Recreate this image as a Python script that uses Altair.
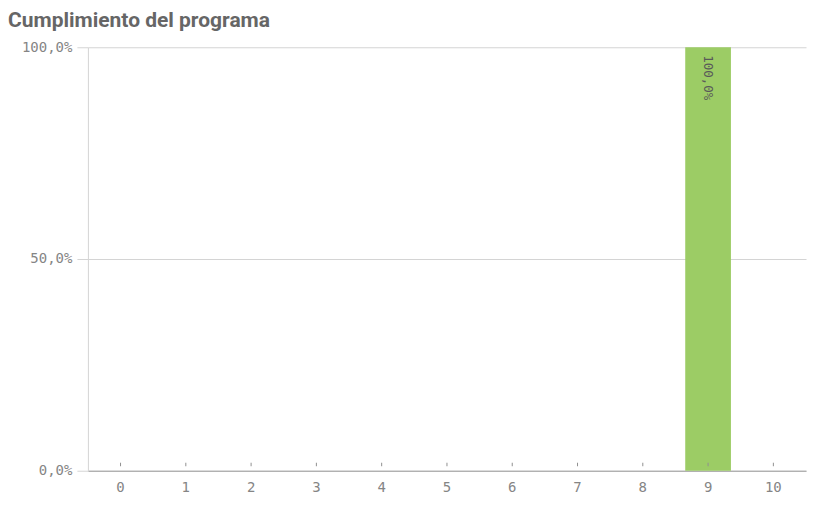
import altair as alt
import pandas as pd

categories = [0, 1, 2, 3, 4, 5, 6, 7, 8, 9, 10]
values = [0, 0, 0, 0, 0, 0, 0, 0, 0, 1.0, 0]
y_ticks = [0, 0.5, 1.0]

df = pd.DataFrame({"cat": categories, "val": values})
df["label"] = df["val"].apply(lambda v: f"{v*100:.1f}%".replace(".", ",") if v > 0 else "")

MONO = "DejaVu Sans Mono"
GRAY = "#858585"

xscale = alt.Scale(paddingInner=0.3, paddingOuter=0.15)
yscale = alt.Scale(domain=[0, 1])

x_enc = alt.X("cat:O", scale=xscale, sort=categories,
              axis=alt.Axis(title=None, labelAngle=0, ticks=False, grid=False,
                            domainColor="#a0a0a0", labelFont=MONO, labelFontSize=14,
                            labelColor=GRAY, labelPadding=10))

bars = alt.Chart(df).mark_bar(color="#9ccc65").encode(
    x=x_enc,
    y=alt.Y("val:Q", scale=yscale,
            axis=alt.Axis(title=None, values=y_ticks, grid=True, gridColor="#d4d4d4",
                          domainColor="#d4d4d4", tickColor="#d4d4d4", tickSize=11,
                          labelFont=MONO, labelFontSize=14, labelColor=GRAY, labelPadding=5,
                          labelExpr="replace(format(datum.value, '.1%'), '.', ',')")),
)

labels = alt.Chart(df).mark_text(angle=90, align="left", baseline="middle", dx=8,
                                 font=MONO, fontSize=12.5, color="#595959").encode(
    x=alt.X("cat:O", scale=xscale, sort=categories),
    y=alt.Y("val:Q", scale=yscale),
    text="label:N",
)

ticks = alt.Chart(df).mark_rule(color="#909090", strokeWidth=1).encode(
    x=alt.X("cat:O", scale=xscale, sort=categories),
    y=alt.value(416),
    y2=alt.value(419.5),
)

chart = alt.layer(bars, ticks, labels).properties(
    width=719, height=424,
    title=alt.TitleParams("Cumplimiento del programa", anchor="start", frame="group",
                          font="Roboto", fontSize=21, fontWeight="bold", color="#666666",
                          dx=-80, offset=9),
    autosize=alt.AutoSizeParams(type="none"),
    padding={"left": 80, "top": 39, "right": 5, "bottom": 30},
).configure_view(stroke=None).configure_axisY(domainWidth=1)

chart.save("out.html", embed_options={"renderer": "svg", "actions": False})
